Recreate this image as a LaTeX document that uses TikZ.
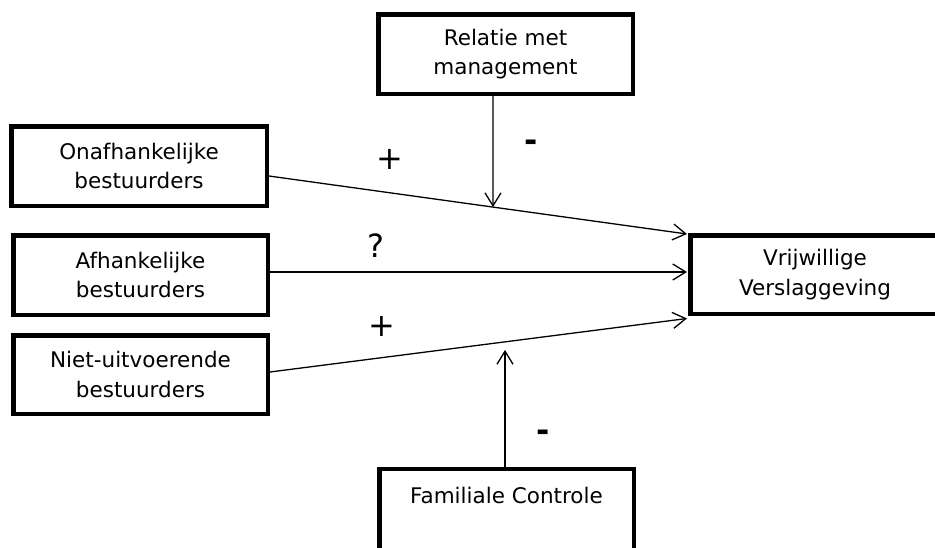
\documentclass[tikz,border=0pt]{standalone}
\usepackage{fontspec}
\setmainfont{DejaVu Sans}
\usetikzlibrary{arrows.meta,calc}
\begin{document}
\begin{tikzpicture}[x=1pt,y=-1pt,
  box/.style={draw, line width=4.5pt, align=center, inner sep=0pt,
    minimum width=254.5pt, minimum height=79.5pt,
    font=\fontsize{21.5}{29.5}\selectfont},
  arr/.style={line width=1.3pt, -{Straight Barb[length=13pt,width=16pt]}},
  sign/.style={font=\fontsize{32}{32}\selectfont, inner sep=0pt},
  minus/.style={font=\fontsize{32}{32}\selectfont\bfseries, inner sep=0pt}]
\useasboundingbox (0,0) rectangle (935,547);
\clip (0,0) rectangle (935,547);

% boxes
\node[box, minimum width=255.5pt] (ob) at (139,166) {Onafhankelijke\\bestuurders};
\node[box] (ab) at (140.5,275) {Afhankelijke\\bestuurders};
\node[box, minimum height=78.5pt] (nb) at (140.5,374.5) {Niet-uitvoerende\\bestuurders};
\node[box] (rm) at (505.5,54) {Relatie met\\management};
\node[box, minimum width=249.5pt, minimum height=78.5pt] (vv) at (815,274.5) {Vrijwillige\\Verslaggeving};
\node[box, minimum height=82pt] (fc) at (506.5,510) {Familiale Controle\\\mbox{}};

% connector end points
\coordinate (s1) at ($(ob.east)+(0,10)$);
\coordinate (t1) at ($(vv.west)+(-1,-40.5)$);
\coordinate (s2) at ($(ab.east)+(0,-3)$);
\coordinate (t2) at ($(vv.west)+(-1,-2.5)$);
\coordinate (s3) at ($(nb.east)+(0,-2.5)$);
\coordinate (t3) at ($(vv.west)+(-1,44)$);
\coordinate (m1) at ($(rm.south)+(-12.5,0)$);
\coordinate (m2) at ($(m1)+(0,200)$);
\coordinate (f1) at ($(fc.north)+(-1.5,0)$);
\coordinate (f2) at (505,350);

% effects on voluntary reporting
\draw[arr] (s1) -- (t1);
\draw[arr] (s2) -- (t2);
\draw[arr] (s3) -- (t3);

% moderators
\draw[arr] (m1) -- (intersection of s1--t1 and m1--m2);
\draw[arr] (f1) -- (f2);

% signs
\node[sign] (p1) at (390,159) {+};
\node[minus] (n1) at (531,146) {-};
\node[sign] (q1) at (376,246) {?};
\node[sign] (p2) at (382,326) {+};
\node[minus] (n2) at (543,436) {-};
\end{tikzpicture}
\end{document}
